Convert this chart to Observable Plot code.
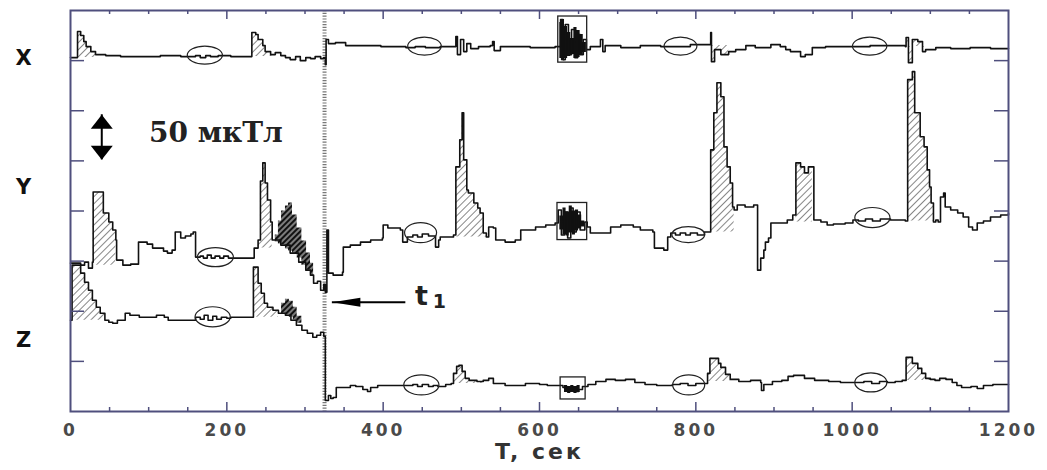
<!DOCTYPE html>
<html><head><meta charset="utf-8">
<script src="https://cdn.jsdelivr.net/npm/d3@7"></script>
<script src="https://cdn.jsdelivr.net/npm/@observablehq/plot@0.6"></script>
<style>
body{margin:0;background:#fff;}
g[aria-label="x-axis tick label"] text{letter-spacing:3px}
g[aria-description="axis-title"] text{letter-spacing:3px}
</style></head><body>
<script>
// ---- series data (time in s, field offset in µT) ----
const xTimes = [0,6,9,13,17,20,26,32,45,64,90,115,141,160,166,173,179,189,205,230,232,237,240,246,249,256,262,269,275,281,288,294,301,307,313,320,324,326,327,330,339,352,371,397,422,429,441,454,473,486,493,495,499,503,507,512,522,537,540,542,550,588,620,627,630,633,637,641,645,649,652,656,660,665,675,678,681,684,704,729,755,793,816,819,820,824,832,842,851,864,876,896,908,915,921,934,940,949,966,998,1023,1055,1068,1069,1072,1077,1084,1090,1094,1107,1126,1151,1177,1200];
const xValues = [353,353,379,375,369,364,359,356,355,354,354,355,354,355,353,355,354,355,354,354,378,376,371,365,359,356,358,355,353,351,354,350,353,352,354,352,353,346,371,367,368,365,365,364,364,363,364,363,364,364,374,356,371,359,367,362,364,365,369,360,364,363,364,391,351,386,356,381,353,376,356,371,361,364,364,371,359,365,363,365,364,366,366,378,349,361,356,359,361,365,363,366,364,361,359,354,356,363,364,364,365,365,364,373,348,371,369,359,361,363,362,363,362,362];

const yTimes = [0,13,18,23,28,29,38,42,49,54,58,59,67,77,87,98,105,111,119,124,130,134,141,147,154,157,160,166,170,175,180,185,191,196,202,209,234,235,240,243,246,249,252,256,258,269,281,292,301,307,311,316,320,324,326,328,330,336,348,349,358,371,384,399,400,406,422,425,431,438,444,450,458,464,467,471,473,490,493,498,501,503,507,509,516,521,524,528,532,535,541,544,556,569,576,588,595,608,620,624,628,632,636,640,643,647,652,658,661,665,678,691,704,720,729,745,747,759,764,768,774,780,787,793,802,811,816,819,823,827,832,836,840,844,847,849,853,863,874,878,879,883,887,889,893,896,906,917,924,928,934,939,944,949,951,960,968,976,991,1001,1008,1017,1026,1036,1049,1068,1071,1077,1080,1084,1087,1092,1096,1099,1101,1104,1107,1110,1113,1117,1119,1126,1135,1142,1149,1154,1160,1168,1177,1190,1200];
const yValues = [148,146,149,143,149,219,219,198,189,181,171,151,146,147,169,167,163,163,160,158,161,179,173,175,177,179,154,155,153,156,153,155,153,155,153,153,153,163,171,230,248,228,211,189,171,166,158,149,141,136,128,130,121,127,119,181,138,136,139,164,166,169,171,173,186,183,181,169,174,176,174,177,175,175,164,171,174,176,244,271,298,251,221,218,208,203,198,178,174,184,183,171,169,171,181,181,184,186,188,201,176,199,173,203,179,199,181,189,184,178,178,184,186,184,181,179,163,161,174,178,176,178,176,178,176,179,179,261,298,328,314,264,244,228,204,201,206,204,206,206,141,153,161,169,173,188,188,191,196,248,244,238,244,244,191,189,186,187,188,191,190,192,190,192,191,190,331,339,298,298,274,264,241,224,208,189,191,189,214,218,204,201,198,194,184,181,188,190,194,196,198];

const zTimes = [0,2,12,13,18,23,28,33,38,44,49,54,60,70,76,88,98,110,120,125,160,166,171,176,182,187,193,200,205,232,234,240,244,248,252,259,266,275,282,289,296,303,310,315,320,324,326,330,333,336,340,348,358,365,374,380,384,393,431,438,444,450,458,464,470,480,487,490,494,497,501,505,510,520,528,535,541,556,570,582,600,610,630,635,640,645,650,655,662,672,685,697,710,722,735,750,770,780,790,800,810,815,818,823,829,832,838,844,855,870,883,884,887,898,910,918,925,932,939,952,970,985,1005,1015,1025,1035,1045,1055,1064,1069,1074,1077,1084,1089,1094,1100,1106,1112,1120,1128,1134,1140,1152,1160,1168,1180,1200];
const zValues = [91,146,146,138,129,121,111,104,98,91,89,88,91,98,96,94,94,96,94,91,94,92,96,91,95,92,94,93,94,94,144,128,118,108,104,101,98,96,91,86,81,78,74,76,79,75,11,16,13,14,24,24,26,25,22,20,24,26,26,27,25,27,25,26,25,27,28,38,45,46,40,33,31,30,31,33,28,26,26,28,27,26,24,21,23,20,22,25,27,30,32,31,32,29,27,26,27,28,26,28,28,38,53,53,48,44,37,32,30,31,29,21,27,30,31,35,36,36,33,31,30,29,29,30,28,30,29,30,31,54,54,48,43,38,33,32,31,33,32,29,26,24,25,23,26,27,27];

// hatched bursts: series, start, end, baseline
const hatchSeries = ["X","X","X","X","Y","Y","Y","Y","Y","Y","Z","Z","Z","Z","Z"];
const hatchStart  = [6,230,820,1069, 29,235,493,819,928,1071, 2,234,490,815,1069];
const hatchEnd    = [32,262,844,1094, 58,258,532,849,949,1104, 44,266,528,844,1106];
const hatchBase   = [353,354,365,364, 146,163,174,179,189,190, 91,94,28,30,31];

// dense (dark) noisy humps
const humpYTimes  = [258,262,266,270,275,279,284,290,296,302,307,311];
const humpYTop    = [171,176,190,200,205,208,196,183,170,158,148,136];
const humpYBottom = [171,169,167,166,162,160,157,153,146,141,136,128];
const humpZTimes  = [266,270,275,280,285,290,296];
const humpZTop    = [98,108,112,110,104,95,84];
const humpZBottom = [98,97,96,94,91,88,84];

// dense noise inside the boxed interval (envelopes)
const boxNoiseXTimes  = [626,628,632,636,640,644,648,652,656,660];
const boxNoiseXTop    = [388,391,384,378,372,383,380,376,368,362];
const boxNoiseXBottom = [352,350,352,354,356,352,353,355,358,360];
const boxNoiseYTimes  = [626,630,634,638,642,646,650,654,658];
const boxNoiseYTop    = [195,203,199,205,200,201,196,190,186];
const boxNoiseYBottom = [181,176,175,178,176,180,182,184,184];
const boxNoiseZTimes  = [632,636,640,644,648,652];
const boxNoiseZTop    = [26,25,26,25,26,24];
const boxNoiseZBottom = [19,18,19,18,19,20];

// circled quiet intervals
const circleStart = [150,432,760,1001, 163,428,770,1004, 160,427,771,1004];
const circleEnd   = [195,475,802,1045, 209,469,812,1049, 205,472,812,1045];
const circleLow   = [346,355,355,355, 144,168,168,183, 84,16,16,19];
const circleHigh  = [364,373,373,373, 163,188,184,203, 104,36,36,38];

// boxed noisy interval
const boxStart = [624,623,627];
const boxEnd   = [661,661,659];
const boxLow   = [348,171,12];
const boxHigh  = [394,208,34];

// axes / labels
const xTickValues = [0,200,400,600,800,1000,1200];
const xTickLabels = ["0","200","400","600","800","1000","1200"];
const xMinorTicks = [50,100,150,250,300,350,450,500,550,650,700,750,850,900,950,1050,1100,1150];
const xMajorTicks = [200,400,600,800,1000];
const yTickValues = [50,100,150,200,250,300,350];
const seriesNames = ["X","Y","Z"];
const seriesLabelValues = [352,224,71];
const xAxisTitle = "T, сек";

// annotations
const eventTime = 325;
const eventArrowTip = 335, eventArrowTail = 429, eventArrowValue = 109;
const eventLabelMain = "t", eventLabelSub = "1";
const eventLabelTime = 449, eventLabelSubTime = 472, eventLabelValue = 115;
const scaleArrowTime = 40, scaleArrowLow = 251, scaleArrowHigh = 296;
const scaleLabel = "50 мкТл", scaleLabelTime = 186, scaleLabelValue = 278;

// ---- build tables ----
const rows = [];
[[ "X", xTimes, xValues ], [ "Y", yTimes, yValues ], [ "Z", zTimes, zValues ]].forEach(([s, ts, vs]) =>
  ts.forEach((t, i) => rows.push({series: s, t, v: vs[i]})));

const hatchRows = [];
hatchSeries.forEach((s, k) => {
  rows.filter(r => r.series === s && r.t >= hatchStart[k] && r.t <= hatchEnd[k])
      .forEach(r => hatchRows.push({seg: k, t: r.t, v: r.v, base: hatchBase[k]}));
});
const humpRows = [
  ...humpYTimes.map((t, i) => ({id: "Y", t, lo: humpYBottom[i], hi: humpYTop[i]})),
  ...humpZTimes.map((t, i) => ({id: "Z", t, lo: humpZBottom[i], hi: humpZTop[i]}))
];
const noiseRows = [
  ...boxNoiseXTimes.map((t, i) => ({id: "X", t, lo: boxNoiseXBottom[i], hi: boxNoiseXTop[i]})),
  ...boxNoiseYTimes.map((t, i) => ({id: "Y", t, lo: boxNoiseYBottom[i], hi: boxNoiseYTop[i]})),
  ...boxNoiseZTimes.map((t, i) => ({id: "Z", t, lo: boxNoiseZBottom[i], hi: boxNoiseZTop[i]}))
];
const circles = circleStart.map((s, i) => ({a: s, b: circleEnd[i], lo: circleLow[i], hi: circleHigh[i]}));
const boxes = boxStart.map((s, i) => ({a: s, b: boxEnd[i], lo: boxLow[i], hi: boxHigh[i]}));
const seriesLabels = seriesNames.map((n, i) => ({n, v: seriesLabelValues[i]}));

const headUp = {draw(c){ c.moveTo(0,0); c.lineTo(11,14); c.lineTo(-11,14); c.closePath(); }};
const headDown = {draw(c){ c.moveTo(0,0); c.lineTo(11,-14); c.lineTo(-11,-14); c.closePath(); }};
const headLeft = {draw(c){ c.moveTo(0,0); c.lineTo(28,-4.5); c.lineTo(28,4.5); c.closePath(); }};

const axisColor = "#4f4f7d";
const FW = 938;

const chart = Plot.plot({
  width: 1047, height: 470,
  marginLeft: 70, marginRight: 39, marginTop: 10, marginBottom: 59,
  style: {fontFamily: "DejaVu Sans", background: "#fff", color: "#000"},
  x: {domain: [0, 1200]},
  y: {domain: [0, 400], axis: null},
  marks: [
    Plot.areaY(hatchRows, {x: "t", y1: "base", y2: "v", z: "seg", curve: "step-after", fill: "url(#hatch)"}),
    Plot.areaY(humpRows, {x: "t", y1: "lo", y2: "hi", z: "id", curve: "step-after", fill: "url(#darkhatch)"}),
    Plot.ruleX([eventTime], {stroke: "#777", strokeWidth: 4, strokeDasharray: "1.2,1.6"}),
    Plot.areaY(noiseRows, {x: "t", y1: "lo", y2: "hi", z: "id", curve: "step-after", fill: "#111"}),
    Plot.line(rows, {x: "t", y: "v", z: "series", curve: "step-after", stroke: "#111", strokeWidth: 1.6}),
    Plot.rect(circles, {x1: "a", x2: "b", y1: "lo", y2: "hi", rx: 100, fill: "none", stroke: "#222", strokeWidth: 1.2}),
    Plot.rect(boxes, {x1: "a", x2: "b", y1: "lo", y2: "hi", fill: "none", stroke: "#222", strokeWidth: 1.3}),
    // frame and inward ticks
    Plot.ruleX(xMinorTicks, {insetTop: 397, stroke: axisColor, strokeWidth: 1.5}),
    Plot.ruleX(xMinorTicks, {insetBottom: 397, stroke: axisColor, strokeWidth: 1.5}),
    Plot.ruleX(xMajorTicks, {insetTop: 392, stroke: axisColor, strokeWidth: 1.5}),
    Plot.ruleX(xMajorTicks, {insetBottom: 392, stroke: axisColor, strokeWidth: 1.5}),
    Plot.ruleY(yTickValues, {insetRight: FW - 14, stroke: axisColor, strokeWidth: 1.5}),
    Plot.ruleY(yTickValues, {insetLeft: FW - 14, stroke: axisColor, strokeWidth: 1.5}),
    Plot.frame({stroke: axisColor, strokeWidth: 2}),
    Plot.axisX({ticks: xTickValues, tickFormat: (d, i) => xTickLabels[i], tickSize: 0, tickPadding: 12,
      fontSize: 17, fontWeight: "bold", fontFamily: "DejaVu Sans", fill: "#4a4a4a", label: null}),
    Plot.text([xAxisTitle], {frameAnchor: "bottom", dy: 47, fontSize: 22, fontWeight: "bold",
      fontFamily: "DejaVu Sans", fill: "#333", ariaDescription: "axis-title"}),
    Plot.text(seriesLabels, {y: "v", text: "n", frameAnchor: "left", dx: -47, textAnchor: "middle",
      fontSize: 21, fontWeight: "bold", fontFamily: "DejaVu Sans", fill: "#111"}),
    // scale bar annotation
    Plot.ruleX([scaleArrowTime], {y1: scaleArrowLow, y2: scaleArrowHigh, stroke: "#000", strokeWidth: 2}),
    Plot.dot([scaleArrowHigh], {x: () => scaleArrowTime, y: d => d, symbol: headUp, r: 6, fill: "#000", stroke: "none"}),
    Plot.dot([scaleArrowLow], {x: () => scaleArrowTime, y: d => d, symbol: headDown, r: 6, fill: "#000", stroke: "none"}),
    Plot.text([scaleLabel], {x: () => scaleLabelTime, y: () => scaleLabelValue, fontSize: 28, fontWeight: "bold",
      fontFamily: "DejaVu Serif", fill: "#222"}),
    // t1 annotation
    Plot.ruleY([eventArrowValue], {x1: eventArrowTip, x2: eventArrowTail, stroke: "#000", strokeWidth: 2}),
    Plot.dot([eventArrowValue], {x: () => eventArrowTip, y: d => d, symbol: headLeft, r: 6, fill: "#000", stroke: "none"}),
    Plot.text([eventLabelMain], {x: () => eventLabelTime, y: () => eventLabelValue, fontSize: 27, fontWeight: "bold",
      fontFamily: "DejaVu Sans", fill: "#222"}),
    Plot.text([eventLabelSub], {x: () => eventLabelSubTime, y: () => eventLabelValue, dy: 6, fontSize: 19, fontWeight: "bold",
      fontFamily: "DejaVu Sans", fill: "#222"})
  ]
});

const ns = "http://www.w3.org/2000/svg";
const defs = document.createElementNS(ns, "defs");
defs.innerHTML =
  '<pattern id="hatch" patternUnits="userSpaceOnUse" width="5" height="5" patternTransform="rotate(45)">' +
  '<line x1="0" y1="0" x2="0" y2="5" stroke="#222" stroke-width="1.1"/></pattern>' +
  '<pattern id="darkhatch" patternUnits="userSpaceOnUse" width="4" height="4" patternTransform="rotate(45)">' +
  '<rect width="4" height="4" fill="#111"/>' +
  '<line x1="2" y1="0" x2="2" y2="4" stroke="#fff" stroke-width="0.9"/></pattern>';
chart.insertBefore(defs, chart.firstChild);
document.body.appendChild(chart);
</script>
</body></html>
